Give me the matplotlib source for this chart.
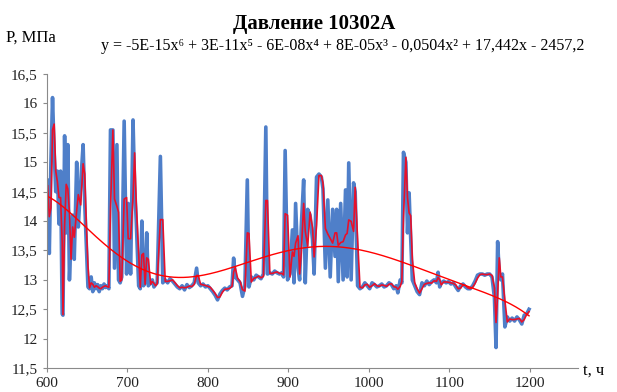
import numpy as np
import pandas as pd
import matplotlib
matplotlib.use('Agg')
import matplotlib.pyplot as plt
from matplotlib.ticker import FuncFormatter

plt.rcParams['font.family'] = ['Liberation Serif', 'DejaVu Serif']

# time, h
t = [600, 601, 603, 605, 607, 609, 611, 613, 615, 617, 619, 620, 622, 624, 626, 628,
     630, 632, 634, 637, 639, 642, 645, 647, 649, 651, 653, 655, 657, 659, 661, 663,
     665, 667, 669, 671, 673, 675, 677, 679, 682, 684, 687, 689, 691, 693, 696, 699,
     701, 704, 707, 709, 711, 714, 716, 718, 720, 722, 724, 726, 729, 731, 733, 735,
     737, 741, 744, 747, 750, 753, 756, 759, 762, 765, 768, 771, 774, 777, 780, 783,
     786, 788, 791, 794, 797, 800, 803, 806, 809, 812, 815, 818, 821, 824, 827, 830,
     832, 834, 837, 840, 843, 846, 849, 851, 854, 857, 860, 863, 866, 869, 872, 874,
     877, 880, 883, 886, 889, 892, 894, 896, 899, 902, 905, 907, 909, 912, 914, 916,
     919, 921, 924, 927, 930, 932, 935, 938, 941, 943, 946, 949, 952, 955, 958, 960,
     962, 965, 968, 971, 973, 975, 978, 981, 983, 986, 989, 992, 995, 998, 1001, 1004,
     1007, 1010, 1013, 1016, 1019, 1022, 1025, 1028, 1031, 1034, 1036, 1039, 1041, 1043, 1046, 1048,
     1050, 1052, 1054, 1057, 1060, 1063, 1066, 1069, 1072, 1075, 1078, 1081, 1084, 1086, 1088, 1090,
     1093, 1096, 1099, 1102, 1105, 1108, 1111, 1114, 1117, 1120, 1123, 1126, 1129, 1132, 1135, 1138,
     1141, 1144, 1147, 1150, 1153, 1156, 1158, 1160, 1162, 1164, 1166, 1169, 1172, 1175, 1178, 1181,
     1184, 1187, 1190, 1193, 1196, 1199]

# pressure, MPa
p = [14.50, 14.70, 13.45, 15.00, 16.10, 15.20, 14.50, 14.85, 13.95, 14.85, 12.42, 12.40, 15.45, 13.80, 15.30, 13.00,
     13.70, 14.10, 13.35, 15.00, 13.90, 14.65, 15.30, 14.30, 13.60, 12.88, 12.85, 13.05, 12.80, 12.95, 12.85, 12.92,
     12.80, 12.90, 12.85, 12.93, 12.87, 12.90, 12.85, 15.55, 15.55, 13.20, 15.30, 13.00, 12.95, 13.05, 15.70, 13.10,
     14.30, 13.10, 15.72, 14.60, 14.00, 12.90, 12.85, 14.00, 12.90, 12.95, 13.80, 12.90, 12.95, 13.00, 12.88, 12.92,
     12.95, 15.10, 12.95, 13.00, 12.95, 13.02, 12.98, 12.93, 12.88, 12.85, 12.90, 12.83, 12.92, 12.87, 12.90, 12.95,
     13.20, 12.95, 12.90, 12.93, 12.88, 12.90, 12.85, 12.80, 12.74, 12.66, 12.76, 12.82, 12.86, 12.83, 12.88, 12.90,
     13.37, 13.05, 13.00, 12.95, 12.72, 12.90, 14.70, 12.88, 13.05, 13.00, 13.08, 13.05, 13.02, 13.10, 15.60, 13.10,
     13.12, 13.10, 13.15, 13.12, 13.10, 13.12, 13.05, 15.20, 13.00, 13.10, 13.85, 12.95, 14.30, 13.20, 13.00, 13.90,
     14.70, 12.95, 14.20, 14.10, 13.68, 13.10, 14.75, 14.80, 14.75, 14.55, 13.20, 14.36, 13.05, 14.20, 13.40, 14.20,
     12.97, 14.30, 13.00, 14.53, 13.05, 14.99, 13.00, 14.65, 14.50, 12.90, 12.85, 12.88, 12.95, 12.90, 12.85, 12.95,
     12.92, 12.88, 12.90, 12.93, 12.88, 12.90, 12.95, 12.92, 12.85, 12.90, 12.78, 13.00, 12.95, 15.17, 15.00, 13.80,
     14.48, 13.70, 13.00, 12.90, 12.80, 12.75, 12.95, 12.90, 12.98, 12.92, 12.97, 13.00, 12.95, 13.13, 12.88, 12.95,
     12.98, 12.95, 12.97, 12.93, 12.95, 12.88, 12.82, 12.90, 12.93, 12.88, 12.85, 12.85, 12.90, 12.98, 13.08, 13.10,
     13.10, 13.08, 13.10, 13.10, 13.05, 12.70, 11.85, 13.65, 13.10, 13.00, 13.10, 12.20, 12.37, 12.30, 12.35, 12.30,
     12.37, 12.32, 12.25, 12.40, 12.42, 12.50]

t = np.array(t, dtype=float)
p = np.array(p)

# moving average (2 periods) and 6th degree polynomial trend
ma = pd.Series(p).rolling(2).mean().values
poly = np.polynomial.Polynomial.fit(t, p, 6)
tt = np.linspace(t[0], t[-1], 400)

fig = plt.figure(figsize=(6.17, 3.92), dpi=100)
ax = fig.add_axes([0.076, 0.061, 0.861, 0.750])

ax.plot(t, p, color='#4F7FC9', lw=2.6, solid_joinstyle='round')
ax.plot(t, ma, color='#E8102A', lw=1.2)
ax.plot(tt, poly(tt), color='#FF0000', lw=1.0)

ax.set_xlim(600, 1260)
ax.set_ylim(11.5, 16.5)
ax.set_xticks(np.arange(600, 1201, 100))
ax.set_yticks(np.arange(11.5, 16.51, 0.5))
ax.yaxis.set_major_formatter(FuncFormatter(lambda v, pos: ('%g' % v).replace('.', ',')))

for s in ['top', 'right']:
    ax.spines[s].set_visible(False)
for s in ['left', 'bottom']:
    ax.spines[s].set_color('#8a8a8a')
ax.tick_params(direction='out', length=3, color='#8a8a8a', labelsize=11, labelcolor='#222222')

fig.text(0.51, 0.94, 'Давление 10302А', ha='center', va='center', fontsize=15, fontweight='bold')
fig.text(0.163, 0.882, 'y = -5E-15x⁶ + 3E-11x⁵ - 6E-08x⁴ + 8E-05x³ - 0,0504x² + 17,442x - 2457,2',
         ha='left', va='center', fontsize=11.5)
fig.text(0.01, 0.903, 'P, МПа', ha='left', va='center', fontsize=12)
fig.text(0.945, 0.055, 't, ч', ha='left', va='center', fontsize=12)

plt.savefig('out.png', dpi=100)
